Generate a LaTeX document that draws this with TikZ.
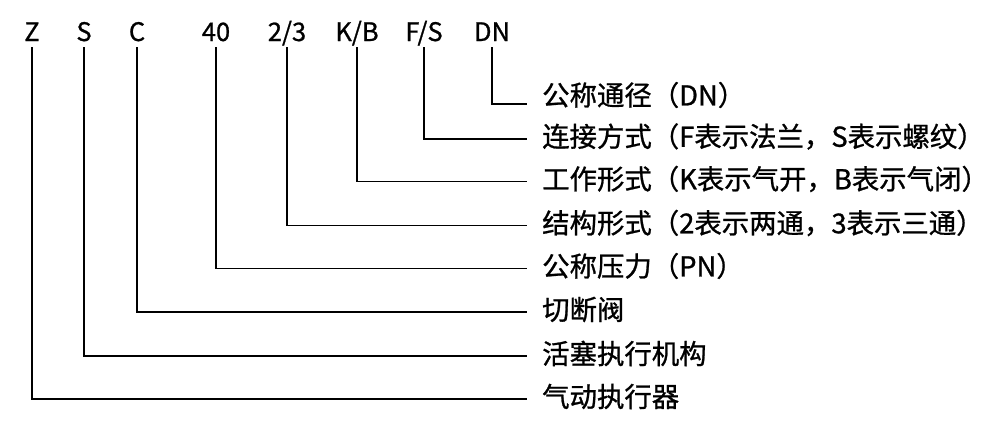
\documentclass[tikz,border=0pt]{standalone}
\usepackage{fontspec}
\setmainfont{Noto Sans CJK SC}[BoldFont={Noto Sans CJK SC},BoldFeatures={FakeBold=0.9}]
\begin{document}
\begin{tikzpicture}[x=1pt,y=-1pt,
  code/.style={font=\fontsize{25.5pt}{28pt}\selectfont\bfseries, anchor=base, inner xsep=0pt, inner ysep=6pt, text depth=0pt},
  desc/.style={font=\fontsize{27.4pt}{30pt}\selectfont\bfseries, anchor=west, inner sep=0pt},
  conn/.style={line width=1.7pt, line join=miter}]
\useasboundingbox (0,0) rectangle (993,429);
% top codes (placed at the x of their lines)
\node[code] (cZ)  at (32,41)  {Z};
\node[code] (cS)  at (84,41)  {S};
\node[code] (cC)  at (137,41) {C};
\node[code] (c40) at (216,41) {40};
\node[code] (c23) at (287,41) {2/3};
\node[code] (cKB) at (357,41) {K/B};
\node[code] (cFS) at (424,41) {F/S};
\node[code] (cDN) at (492,41) {DN};
% descriptions
\node[desc] (dDN) at (542,95)  {公称通径（DN）};
\node[desc] (dFS) at (542,136.5) {连接方式（F表示法兰，S表示螺纹）};
\node[desc] (dKB) at (542,179) {工作形式（K表示气开，B表示气闭）};
\node[desc] (d23) at (542,223) {结构形式（2表示两通，3表示三通）};
\node[desc] (d40) at (542,266) {公称压力（PN）};
\node[desc] (dC)  at (542,309.5) {切断阀};
\node[desc] (dS)  at (542,353.5) {活塞执行机构};
\node[desc] (dZ)  at (542,396.5) {气动执行器};
% connectors
\draw[conn] (cDN.south) |- ([xshift=-15pt,yshift=-9pt]dDN.west);
\draw[conn] (cFS.south) |- ([xshift=-15pt,yshift=-2.5pt]dFS.west);
\draw[conn] (cKB.south) |- ([xshift=-15pt,yshift=-2.5pt]dKB.west);
\draw[conn] (c23.south) |- ([xshift=-15pt,yshift=-2.5pt]d23.west);
\draw[conn] (c40.south) |- ([xshift=-15pt,yshift=-2.5pt]d40.west);
\draw[conn] (cC.south)  |- ([xshift=-15pt,yshift=-2.5pt]dC.west);
\draw[conn] (cS.south)  |- ([xshift=-15pt,yshift=-2.5pt]dS.west);
\draw[conn] (cZ.south)  |- ([xshift=-15pt,yshift=-2.5pt]dZ.west);
\end{tikzpicture}
\end{document}
